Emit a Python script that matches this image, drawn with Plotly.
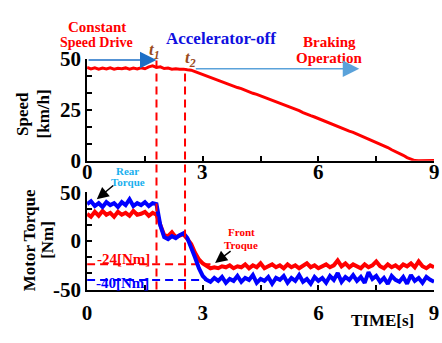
import plotly.graph_objects as go

# ---------------- data ----------------
time_s = [round(i * 0.1, 1) for i in range(91)]

speed_kmh = [
    45.6, 44.9, 45.4, 44.8, 45.3, 44.9, 45.4, 44.8, 45.2, 45.0,
    45.4, 44.8, 45.3, 44.9, 45.5, 45.0, 45.9, 46.4, 45.6, 45.9,
    45.1, 45.3, 44.8, 45.0, 44.7, 44.8, 44.5, 44.3, 43.6, 42.9,
    42.0, 41.4, 40.5, 39.9, 39.1, 38.5, 38.0, 37.1, 36.6, 35.8,
    35.3, 34.4, 33.9, 33.0, 32.5, 31.8, 31.1, 30.4, 29.7, 28.9,
    28.3, 27.4, 26.8, 25.9, 25.3, 24.5, 23.6, 23.0, 22.1, 21.4,
    20.6, 19.9, 19.1, 18.4, 17.5, 16.9, 16.0, 15.4, 14.5, 13.9,
    13.1, 12.4, 11.5, 10.9, 9.9, 9.2, 8.3, 7.4, 6.5, 5.4,
    4.6, 3.6, 2.7, 1.6, 0.7, 0.1, 0.0, 0.1, 0.0, 0.1, 0.2,
]

rear_torque = [
    38, 41, 36, 39, 35, 40, 37, 39, 35, 40,
    37, 43, 36, 39, 37, 40, 36, 39, 38, 16,
    4, 2, 5, 3, 6, 8, 3, -6, -17, -28,
    -36, -40, -42, -38, -41, -37, -43, -39, -41, -36,
    -42, -38, -40, -35, -43, -39, -41, -37, -44, -38,
    -40, -36, -43, -38, -41, -35, -42, -39, -44, -37,
    -41, -38, -43, -36, -40, -33, -42, -37, -40, -35,
    -41, -37, -43, -32, -39, -36, -42, -38, -44, -36,
    -40, -42, -37, -44, -35, -41, -38, -43, -37, -40, -42,
]

front_torque = [
    28, 25, 30, 26, 31, 27, 29, 25, 30, 27,
    29, 26, 31, 27, 28, 30, 26, 29, 27, 17,
    6, 5, 9, 4, 6, 7, 2, -3, -12, -19,
    -23, -26, -28, -27, -28, -26, -27, -25, -28, -26,
    -27, -24, -28, -25, -27, -23, -28, -26, -24, -27,
    -25, -28, -24, -27, -25, -28, -26, -23, -27, -25,
    -28, -26, -24, -27, -25, -20, -26, -23, -27, -24,
    -26, -28, -24, -27, -25, -21, -26, -28, -24, -27,
    -25, -28, -24, -26, -23, -27, -21, -26, -28, -25, -27,
]

t1, t2 = 1.8, 2.54
front_ref, rear_ref = -24, -40
ref_end = [3.2, 3.1]

x_ticks = [0, 1.5, 3, 4.5, 6, 7.5, 9]
x_ticktext = ["0", "", "3", "", "6", "", "9"]
speed_ticks = [0, 50 / 6, 100 / 6, 25, 200 / 6, 250 / 6, 50]
speed_ticktext = ["0", "", "", "25", "", "", "50"]
torque_ticks = [-50, -100 / 3, -50 / 3, 0, 50 / 3, 100 / 3, 50]
torque_ticktext = ["-50", "", "", "0", "", "", "50"]

# ---------------- figure ----------------
W, H = 442, 343
FONT = "Liberation Serif"
RED = "#ff0000"
BLUE = "#0000ff"


def px(x):
    return x / W


def py(y):
    return 1 - y / H


fig = go.Figure()

# reference dashed lines (beneath traces)
fig.add_trace(go.Scatter(x=[0, ref_end[0]], y=[front_ref, front_ref], mode="lines",
                         line=dict(color=RED, width=2, dash="8px,5px"),
                         xaxis="x2", yaxis="y2", showlegend=False, hoverinfo="skip"))
fig.add_trace(go.Scatter(x=[0, ref_end[1]], y=[rear_ref, rear_ref], mode="lines",
                         line=dict(color=BLUE, width=2, dash="8px,5px"),
                         xaxis="x2", yaxis="y2", showlegend=False, hoverinfo="skip"))

fig.add_trace(go.Scatter(x=time_s, y=speed_kmh, mode="lines",
                         line=dict(color=RED, width=3),
                         xaxis="x", yaxis="y", showlegend=False))
fig.add_trace(go.Scatter(x=time_s, y=front_torque, mode="lines",
                         line=dict(color=RED, width=4),
                         xaxis="x2", yaxis="y2", showlegend=False))
fig.add_trace(go.Scatter(x=time_s, y=rear_torque, mode="lines",
                         line=dict(color=BLUE, width=4),
                         xaxis="x2", yaxis="y2", showlegend=False))

tickfont = dict(family=FONT, size=21, color="black", weight="bold")
axis_common = dict(
    showline=True, linecolor="black", linewidth=2, mirror=False,
    ticks="inside", ticklen=5, tickwidth=1.5, tickcolor="black",
    showgrid=False, zeroline=False, ticklabeloverflow="allow",
    tickfont=tickfont,
)

fig.update_layout(
    width=W, height=H,
    margin=dict(l=0, r=0, t=0, b=0),
    paper_bgcolor="white", plot_bgcolor="white",
    xaxis=dict(domain=[px(84), px(439)], range=[0, 9], anchor="y",
               tickvals=x_ticks, ticktext=x_ticktext, showticklabels=False, **axis_common),
    yaxis=dict(domain=[py(160), py(50)], range=[0, 50], anchor="x",
               tickvals=speed_ticks, ticktext=speed_ticktext, **axis_common),
    xaxis2=dict(domain=[px(84), px(439)], range=[0, 9], anchor="y2",
                tickvals=x_ticks, ticktext=x_ticktext, ticklabelstandoff=3, **axis_common),
    yaxis2=dict(domain=[py(298.5), py(194)], range=[-50, 50], anchor="x2",
                tickvals=torque_ticks, ticktext=torque_ticktext, **axis_common),
)

# top-axis tick labels, placed closer to the axis as in the reference
for tv, tt in zip(x_ticks, x_ticktext):
    if tt:
        fig.add_annotation(x=tv, y=py(172), xref="x", yref="paper", text=tt,
                           showarrow=False, xanchor="center", yanchor="middle",
                           font=tickfont)

# vertical dashed event lines
for tx, ytop in [(t1, 50), (t2, 62)]:
    fig.add_shape(type="line", xref="x", yref="paper", x0=tx, x1=tx,
                  y0=py(298.5), y1=py(ytop),
                  line=dict(color=RED, width=2, dash="8px,5px"), layer="above")

def text(x, y, s, color, size, **kw):
    fig.add_annotation(x=px(x), y=py(y), xref="paper", yref="paper", text=s,
                       showarrow=False, xanchor="center", yanchor="middle",
                       font=dict(family=FONT, size=size, color=color), **kw)

text(94, 16, "<b>Constant</b>", RED, 15)
text(94, 33, "<b>Speed Drive</b>", RED, 14)
text(221, 29, "<b>Accelerator-off</b>", "#1010e0", 17)
text(332, 32, "<b>Braking</b>", RED, 15)
text(332, 49, "<b>Operation</b>", RED, 15)
text(153, 42, "<b><i>t<sub>1</sub></i></b>", "#9a4a1c", 17)
text(190, 50, "<b><i>t<sub>2</sub></i></b>", "#9a4a1c", 17)
text(125, 171, "<b>Rear</b>", "#1ab0ee", 11)
text(126, 183, "<b>Torque</b>", "#1ab0ee", 11)
text(242, 237, "<b>Front</b>", RED, 11)
text(241, 251, "<b>Troque</b>", RED, 11)
text(121, 266, "<b>-24[Nm]</b>", RED, 15)
text(120, 291, "<b>-40[Nm]</b>", BLUE, 15)
text(386, 332, "<b>TIME[s]</b>", "black", 17)
text(18, 110, "<b>Speed</b>", "black", 17, textangle=-90)
text(39, 110, "<b>[km/h]</b>", "black", 17, textangle=-90)
text(25, 245, "<b>Motor Torque</b>", "black", 17, textangle=-90)
text(44, 245, "<b>[Nm]</b>", "black", 17, textangle=-90)

# arrows
fig.add_annotation(x=1.8, y=49.3, ax=0, ay=49.3, xref="x", yref="y", axref="x", ayref="y",
                   text="", showarrow=True, arrowhead=2, arrowsize=2.2, arrowwidth=1.5,
                   arrowcolor="#1c6fc6", standoff=0)
fig.add_annotation(x=7.06, y=45, ax=2.78, ay=45, xref="x", yref="y", axref="x", ayref="y",
                   text="", showarrow=True, arrowhead=2, arrowsize=2.2, arrowwidth=1.5,
                   arrowcolor="#5aa2da", standoff=0)
fig.add_annotation(x=0.25, y=43, xref="x2", yref="y2", ax=18, ay=-15,
                   text="", showarrow=True, arrowhead=2, arrowsize=1.6, arrowwidth=1.5,
                   arrowcolor="black", standoff=0)
fig.add_annotation(x=3.32, y=-22.5, xref="x2", yref="y2", ax=17, ay=-13,
                   text="", showarrow=True, arrowhead=2, arrowsize=1.6, arrowwidth=1.5,
                   arrowcolor="black", standoff=0)

fig.write_html("out.html")
